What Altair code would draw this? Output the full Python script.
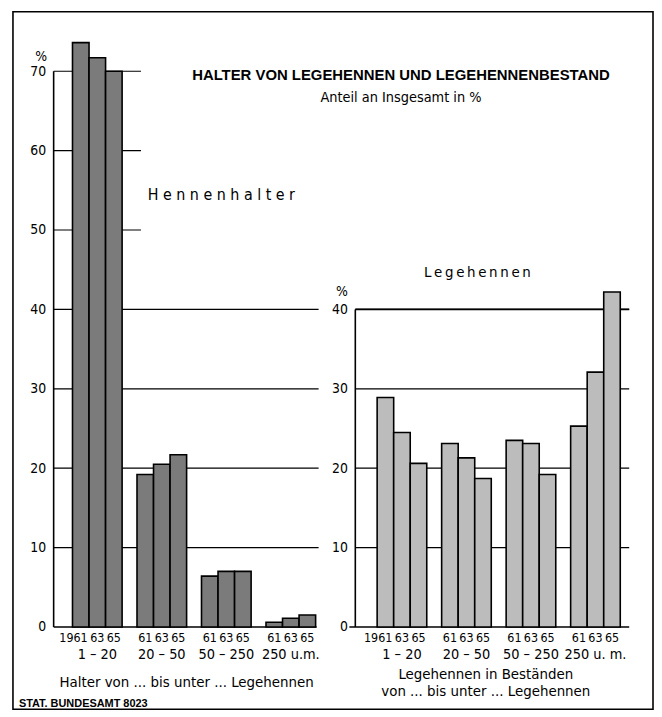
import altair as alt
import pandas as pd

# ---------------- data ----------------
groups_left = ["1 – 20", "20 – 50", "50 – 250", "250 u.m."]
groups_right = ["1 – 20", "20 – 50", "50 – 250", "250 u. m."]
years = ["1961", "1963", "1965"]
year_labels_first = ["1961", "63", "65"]
year_labels_other = ["61", "63", "65"]
# Hennenhalter (share of holders, %)
halter = [73.6, 71.7, 70.0, 19.2, 20.5, 21.7, 6.4, 7.0, 7.0, 0.6, 1.1, 1.5]
# Legehennen (share of laying hens, %)
hennen = [28.9, 24.5, 20.6, 23.1, 21.3, 18.7, 23.5, 23.1, 19.2, 25.3, 32.1, 42.2]

left_ticks = [0, 10, 20, 30, 40, 50, 60, 70]
right_ticks = [0, 10, 20, 30, 40]
grid_left_long = [10, 20, 30, 40]
grid_left_short = [50, 60, 70]
grid_right = [10, 20, 30, 40]

title_text = "HALTER VON LEGEHENNEN UND LEGEHENNENBESTAND"
subtitle_text = "Anteil an Insgesamt in %"
left_label = "H e n n e n h a l t e r"
right_label = "\u2009".join("Legehennen")
source_text = "STAT. BUNDESAMT 8023"
left_xtitle = "Halter von ... bis unter ... Legehennen"
right_xtitle = ["Legehennen in Beständen", "von ... bis unter ... Legehennen"]

NARROW = "Liberation Sans Narrow, DejaVu Sans Condensed, Roboto, sans-serif"
SANS = "Liberation Sans, Arial, sans-serif"


def make_df(groups, values):
    rows = []
    for gi, g in enumerate(groups):
        labels = year_labels_first if gi == 0 else year_labels_other
        for yi, yr in enumerate(years):
            rows.append({"group": g, "year": yr, "value": values[gi * 3 + yi],
                         "ylabel": labels[yi]})
    return pd.DataFrame(rows)


left_df = make_df(groups_left, halter)
right_df = make_df(groups_right, hennen)

H = 600
WL = 267
WR = 276
yscale = alt.Scale(domain=[0, 75], nice=False, zero=True)
one = pd.DataFrame({"a": [0]})


def y_axis(ticks, tx, ty):
    return alt.Axis(values=ticks, domain=False, ticks=False, grid=False,
                    labelPadding=8, labelFont=NARROW, labelFontSize=14,
                    labelColor="black", title="%", titleAngle=0,
                    titleAlign="center", titleBaseline="middle",
                    titleX=tx, titleY=ty, titleFont=NARROW,
                    titleFontSize=14, titleFontWeight="normal",
                    titleColor="black")


def x_axis(title, title_x, title_y):
    kw = {}
    if title_x is not None:
        kw["titleX"] = title_x
    return alt.Axis(title=title, domain=False, ticks=False, labelPadding=21,
                    labelAngle=0, labelFont=NARROW, labelFontSize=14.5,
                    labelColor="black", titleFont=NARROW, titleFontSize=15,
                    titleFontWeight="normal", titleColor="black",
                    titleY=title_y, titleBaseline="top", titleLineHeight=17, **kw)


def panel(df, groups, ticks, pad_outer, align, fill, xax, yax, grids):
    xscale = alt.Scale(domain=groups, paddingInner=15 / 65, paddingOuter=pad_outer, align=align)
    xoff = alt.Scale(paddingInner=0, paddingOuter=0)
    layers = []
    for vals, x2 in grids:
        layers.append(
            alt.Chart(pd.DataFrame({"v": vals})).mark_rule(color="black", strokeWidth=1.2).encode(
                y=alt.Y("v:Q", scale=yscale, axis=yax),
                x=alt.value(0), x2=alt.value(x2)))
    bars = alt.Chart(df).mark_bar(fill=fill, stroke="black", strokeWidth=1.6).encode(
        x=alt.X("group:N", scale=xscale, sort=groups, axis=xax),
        xOffset=alt.XOffset("year:N", scale=xoff, sort=years),
        y=alt.Y("value:Q", scale=yscale, axis=yax),
    )
    base_lab = alt.Chart(df).encode(
        x=alt.X("group:N", scale=xscale, sort=groups, axis=xax),
        xOffset=alt.XOffset("year:N", scale=xoff, sort=years),
        y=alt.value(H + 11),
        text="ylabel:N",
    )
    ylabels = base_lab.transform_filter(alt.datum.ylabel != "1961").mark_text(
        font=NARROW, fontSize=12.5, color="black", baseline="middle")
    ylabels_first = base_lab.transform_filter(alt.datum.ylabel == "1961").mark_text(
        font=NARROW, fontSize=12.5, color="black", baseline="middle", align="right", dx=7)
    return layers, bars, ylabels, ylabels_first


def hrule(x1, x2, v, yax):
    return alt.Chart(one).mark_rule(color="black", strokeWidth=1.6).encode(
        x=alt.value(x1), x2=alt.value(x2), y=alt.YDatum(v, scale=yscale, axis=yax))


def vrule(v1, v2, yax):
    return alt.Chart(one).mark_rule(color="black", strokeWidth=1.6).encode(
        x=alt.value(0), y=alt.YDatum(v1, scale=yscale, axis=yax), y2=alt.datum(v2))


# ---------- left panel ----------
yax_l = y_axis(left_ticks, -13, 25)
xax_l = x_axis(left_xtitle, None, 48)
l_layers, l_bars, l_ylab, l_ylab1 = panel(
    left_df, groups_left, left_ticks, 0.1692, 0.8636, "#7b7b7b", xax_l, yax_l,
    [(grid_left_long, WL), (grid_left_short, 88)])

frame = alt.Chart(one).mark_rect(fillOpacity=0, stroke="black", strokeWidth=1.6).encode(
    x=alt.value(-41), x2=alt.value(604), y=alt.value(-20), y2=alt.value(683))

title = alt.Chart(pd.DataFrame({"t": [title_text]})).mark_text(
    font=SANS, fontSize=15, fontWeight="bold", color="black", baseline="middle").encode(
    text="t:N", x=alt.value(350), y=alt.value(44))
subtitle = alt.Chart(pd.DataFrame({"t": [subtitle_text]})).mark_text(
    font=NARROW, fontSize=14.5, color="black", baseline="middle").encode(
    text="t:N", x=alt.value(350), y=alt.value(67))
hlabel = alt.Chart(pd.DataFrame({"t": [left_label]})).mark_text(
    font=NARROW, fontSize=16, color="black", baseline="middle").encode(
    text="t:N", x=alt.value(169), y=alt.value(165))
source = alt.Chart(pd.DataFrame({"t": [source_text]})).mark_text(
    font=SANS, fontSize=11, fontWeight="bold", color="black", baseline="middle",
    align="left").encode(
    text="t:N", x=alt.value(-35), y=alt.value(678))

left = alt.layer(frame, *l_layers, vrule(0, 70, yax_l), hrule(0, WL - 2, 0, yax_l),
                 l_bars, l_ylab, l_ylab1,
                 title, subtitle, hlabel, source).properties(width=WL, height=H)

# ---------- right panel ----------
yax_r = y_axis(right_ticks, -14, 262)
xax_r = x_axis(right_xtitle, 131, 40)
r_layers, r_bars, r_ylab, r_ylab1 = panel(
    right_df, groups_right, right_ticks, 0.23846, 0.7097, "#bcbcbc", xax_r, yax_r,
    [(grid_right, WR)])
llabel = alt.Chart(pd.DataFrame({"t": [right_label]})).mark_text(
    font=NARROW, fontSize=15, color="black", baseline="middle").encode(
    text="t:N", x=alt.value(123), y=alt.value(242))

right = alt.layer(*r_layers, hrule(0, WR, 40, yax_r), vrule(0, 40, yax_r),
                  hrule(-6, WR, 0, yax_r), r_bars, r_ylab, r_ylab1,
                  llabel).properties(width=WR, height=H)

chart = alt.hconcat(left, right, spacing=37, bounds="flush").properties(
    padding={"left": 4, "top": 0, "right": 0, "bottom": 0},
    background="white",
).configure_view(stroke=None)

chart.save("out.html", embed_options={"renderer": "svg", "actions": False})
